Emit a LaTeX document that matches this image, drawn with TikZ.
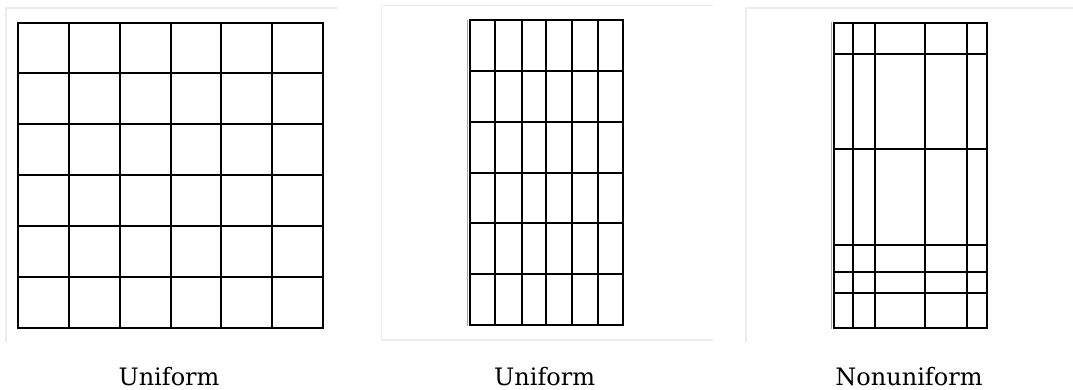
\documentclass[tikz,border=0pt]{standalone}
\usepackage{fontspec}
\setmainfont{DejaVu Serif}
\begin{document}
\begin{tikzpicture}[x=1pt,y=-1pt,
  gridline/.style={line width=2.2pt, black},
  gridbox/.style={line width=2.2pt, black, line join=miter},
  frameline/.style={line width=1.4pt, black!7},
  edgeshadow/.style={line width=1pt, black!35},
  caption/.style={anchor=base, inner sep=0pt, font=\fontsize{24}{24}\selectfont}]
\useasboundingbox[fill=white] (0,0) rectangle (1073,389);

% faint panel frames
\draw[frameline] (338,8) -- (6,8) -- (6,342);
\draw[frameline] (712.7,5.3) -- (381.7,5.3) -- (381.7,340) -- (712.7,340);
\draw[frameline] (1073,8) -- (746,8) -- (746,342);

% panel 1: uniform square grid
\foreach \x in {69,120,170.7,221,272.3}
  \draw[gridline] (\x,22.7) -- (\x,327.7);
\foreach \y in {73.3,124.3,175,226,276.7}
  \draw[gridline] (18.3,\y) -- (322.7,\y);
\draw[gridbox] (18.3,22.7) rectangle (322.7,327.7);

% panel 2: uniform narrow grid
\draw[edgeshadow] (467.6,19.5) -- (467.6,325.5);
\foreach \x in {495,521.7,545.7,572.3,597.7}
  \draw[gridline] (\x,20) -- (\x,325);
\foreach \y in {70.7,122,172.7,223.3,274.3}
  \draw[gridline] (470,\y) -- (622.7,\y);
\draw[gridbox] (470,20) rectangle (622.7,325);

% panel 3: nonuniform grid
\draw[edgeshadow] (831.6,22.2) -- (831.6,328.8);
\foreach \x in {853.3,875,925.3,966.7}
  \draw[gridline] (\x,22.7) -- (\x,328.3);
\foreach \y in {54.3,149,245,271.7,293.3}
  \draw[gridline] (834,\y) -- (986.7,\y);
\draw[gridbox] (834,22.7) rectangle (986.7,328.3);

% captions
\node[caption] (c1) at (169,385) {Uniform};
\node[caption] (c2) at (544.7,385) {Uniform};
\node[caption] (c3) at (909,385) {Nonuniform};
\end{tikzpicture}
\end{document}
